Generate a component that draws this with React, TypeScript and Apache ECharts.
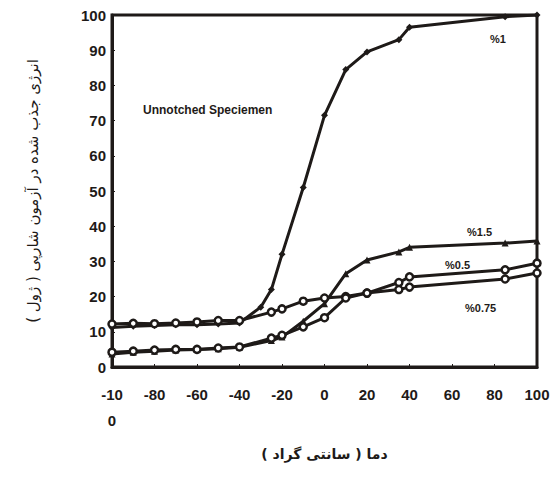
import React, { useEffect, useRef } from "react";
import * as echarts from "echarts";

const xTicks = [-100, -80, -60, -40, -20, 0, 20, 40, 60, 80, 100];
const yTicks = [0, 10, 20, 30, 40, 50, 60, 70, 80, 90, 100];

const t1 = [-100, -90, -80, -70, -60, -50, -40, -30, -25, -20, -10, 0, 10, 20, 35, 40, 85, 100];
const v1 = [11.2, 11.6, 11.8, 12, 12, 12.2, 12.5, 17, 22, 32, 51, 71.5, 84.5, 89.5, 93, 96.5, 99.5, 100];

const t05 = [-100, -90, -80, -70, -60, -50, -40, -25, -20, -10, 0, 10, 20, 35, 40, 85, 100];
const v05 = [12.2, 12.4, 12.3, 12.5, 12.8, 13.2, 13.2, 15.6, 16.5, 18.7, 19.6, 20, 21, 24, 25.6, 27.6, 29.5];

const t15 = [-100, -90, -80, -70, -60, -50, -40, -25, -20, -10, 0, 10, 20, 35, 40, 85, 100];
const v15 = [3.7, 4.2, 4.5, 4.8, 5, 5.2, 5.6, 7.5, 8.5, 13, 18, 26.5, 30.4, 32.7, 34, 35.2, 35.8];

const t075 = [-100, -90, -80, -70, -60, -50, -40, -25, -20, -10, 0, 10, 20, 35, 40, 85, 100];
const v075 = [4.2, 4.5, 4.8, 5, 5, 5.4, 5.7, 8.2, 9, 11.4, 14, 19.6, 21, 22, 22.7, 25, 26.7];

const seriesNames = ["%1", "%1.5", "%0.5", "%0.75"];
const curveLabel = "Unnotched Speciemen";
const yTitle = "انرژی جذب شده در آزمون شارپی ( ژول )";
const xTitle = "دما ( سانتی گراد )";

const INK = "#1e1a18";

function pairs(t: number[], v: number[]) {
  return t.map((x, i) => [x, v[i]]);
}

export default function App() {
  const ref = useRef<HTMLDivElement>(null);
  useEffect(() => {
    if (!ref.current) return;
    const chart = echarts.init(ref.current, undefined, { renderer: "svg" });
    const lineStyle = { color: INK, width: 3 };
    const axisLabelFont = {
      color: INK,
      fontFamily: "Liberation Sans",
      fontWeight: "bold" as const,
      fontSize: 15,
    };
    chart.setOption({
      animation: false,
      backgroundColor: "#ffffff",
      grid: {
        left: 112,
        right: 17,
        top: 15,
        bottom: 112,
        show: true,
        borderColor: INK,
        borderWidth: 3,
      },
      xAxis: {
        type: "value",
        min: xTicks[0],
        max: xTicks[xTicks.length - 1],
        interval: 20,
        axisLine: { show: true, onZero: false, lineStyle: { color: INK, width: 3 } },
        axisTick: { show: true, inside: true, length: 3, lineStyle: { color: INK } },
        splitLine: { show: false },
        axisLabel: {
          ...axisLabelFont,
          margin: 14,
          lineHeight: 26,
          verticalAlign: "top",
          formatter: (v: number) => (v === -100 ? "-10\n0" : String(v)),
        },
        name: xTitle,
        nameLocation: "middle",
        nameGap: 80,
        nameTextStyle: { color: INK, fontFamily: "DejaVu Sans", fontSize: 14, fontWeight: "bold" },
      },
      yAxis: {
        type: "value",
        min: yTicks[0],
        max: yTicks[yTicks.length - 1],
        interval: 10,
        axisLine: { show: true, onZero: false, lineStyle: { color: INK, width: 3 } },
        axisTick: { show: true, inside: true, length: 3, lineStyle: { color: INK } },
        splitLine: { show: false },
        axisLabel: { ...axisLabelFont, margin: 6 },
        name: yTitle,
        nameLocation: "middle",
        nameRotate: 90,
        nameGap: 72,
        nameTextStyle: { color: INK, fontFamily: "DejaVu Sans", fontSize: 15 },
      },
      series: [
        {
          name: seriesNames[0],
          type: "line",
          data: pairs(t1, v1),
          symbol: "diamond",
          symbolSize: 7,
          itemStyle: { color: INK },
          lineStyle,
          z: 3,
        },
        {
          name: seriesNames[1],
          type: "line",
          data: pairs(t15, v15),
          symbol: "triangle",
          symbolSize: 7,
          itemStyle: { color: INK },
          lineStyle,
          z: 3,
        },
        {
          name: seriesNames[2],
          type: "line",
          data: pairs(t05, v05),
          symbol: "circle",
          symbolSize: 7,
          itemStyle: { color: "#ffffff", borderColor: INK, borderWidth: 2.5 },
          lineStyle,
          z: 4,
        },
        {
          name: seriesNames[3],
          type: "line",
          data: pairs(t075, v075),
          symbol: "circle",
          symbolSize: 7,
          itemStyle: { color: "#ffffff", borderColor: INK, borderWidth: 2.5 },
          lineStyle,
          z: 4,
        },
      ],
      graphic: [
        {
          type: "text",
          left: 143,
          top: 104,
          style: { text: curveLabel, fill: INK, font: "bold 12px 'Liberation Sans'" },
        },
        {
          type: "text",
          left: 490,
          top: 33,
          style: { text: seriesNames[0], fill: INK, font: "bold 11px 'Liberation Sans'" },
        },
        {
          type: "text",
          left: 467,
          top: 226,
          style: { text: seriesNames[1], fill: INK, font: "bold 11px 'Liberation Sans'" },
        },
        {
          type: "text",
          left: 445,
          top: 259,
          style: { text: seriesNames[2], fill: INK, font: "bold 11px 'Liberation Sans'" },
        },
        {
          type: "text",
          left: 465,
          top: 302,
          style: { text: seriesNames[3], fill: INK, font: "bold 11px 'Liberation Sans'" },
        },
      ],
    });
    return () => chart.dispose();
  }, []);
  return (
    <div
      ref={ref}
      style={{ position: "fixed", left: 0, top: 0, width: 554, height: 479, background: "#fff" }}
    />
  );
}
